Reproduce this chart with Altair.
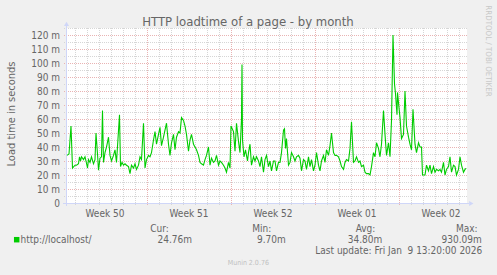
import altair as alt
import pandas as pd

# ---- data (hours since start of window, load time in ms) ----
hours = [0, 4, 8, 11, 16, 19, 23, 25, 27, 29, 33, 36, 38, 41, 43, 46, 49, 53, 56, 58,
         61, 63, 66, 69, 71, 73, 76, 79, 83, 86, 89, 93, 96, 99, 105, 107, 110, 113, 116, 119,
         123, 126, 129, 133, 136, 139, 143, 146, 149, 153, 156, 159, 163, 166, 169, 173, 176, 179, 183, 186,
         189, 193, 196, 199, 203, 206, 209, 213, 216, 219, 223, 226, 229, 233, 236, 239, 243, 246, 249, 253,
         256, 259, 263, 266, 269, 273, 276, 279, 283, 286, 289, 293, 296, 299, 303, 306, 309, 313, 316, 319,
         323, 326, 328, 333, 336, 339, 343, 346, 349, 350, 351, 354, 357, 361, 363, 366, 369, 373, 376, 379,
         383, 386, 389, 393, 396, 399, 403, 406, 409, 413, 416, 419, 423, 426, 429, 433, 435, 437, 439, 443,
         446, 449, 453, 456, 459, 463, 466, 469, 473, 476, 479, 483, 486, 489, 493, 496, 499, 503, 506, 509,
         513, 516, 519, 523, 526, 529, 533, 536, 539, 543, 546, 549, 553, 556, 559, 563, 566, 569, 573, 576,
         579, 583, 586, 589, 593, 596, 599, 603, 606, 609, 613, 616, 619, 623, 626, 629, 633, 636, 639, 643,
         646, 649, 652, 655, 657, 660, 661, 664, 666, 669, 673, 676, 679, 683, 686, 689, 692, 696, 699, 703,
         706, 709, 711, 716, 719, 723, 726, 729, 733, 736, 739, 743, 746, 749, 753, 756, 759, 763, 766, 769,
         773, 776, 779, 783, 786, 789, 793, 796, 798]
load_ms = [34, 35, 55, 25, 27, 27, 28, 33, 30, 33, 31, 33, 30, 25, 31, 29, 33, 28, 31, 50,
           35, 23.5, 32, 33, 66, 29, 36, 40, 47, 34, 30, 34, 38, 29, 63, 26, 29, 27, 28, 27,
           26, 21, 27, 25, 28, 24, 27, 33, 31, 57, 25, 31, 34, 33, 36, 45, 51, 42, 49, 54,
           41, 47, 52, 57, 42, 34, 43, 49, 38, 47, 51, 50, 61, 59, 55, 49, 37, 45, 49, 42,
           40, 38, 34, 29, 28, 27, 31, 34, 40, 27, 32, 29, 30, 34, 27, 30, 29, 27, 25, 22,
           29, 25, 55, 51, 37, 57, 44, 36, 60, 99, 45, 33, 38, 30, 36, 42, 27, 33, 30, 33,
           30, 26, 33, 22, 31, 34, 26, 30, 23, 30, 30, 23, 29, 29, 36, 52, 53, 39, 46, 27,
           29, 36, 33, 30, 33, 34, 32, 23, 31, 30, 24, 33, 26, 31, 23, 27, 36, 27, 23, 30,
           34, 29, 38, 34, 41, 50, 36, 34, 34, 33, 30, 26, 24, 29, 31, 30, 39, 58, 29, 30,
           33, 29, 30, 26, 27, 22, 21, 21, 20, 26, 36, 33, 43, 39, 33, 42, 66, 49, 34, 43,
           33, 59, 120, 85, 78, 63, 79, 68, 61, 46, 49, 80, 55, 47, 42, 38, 67, 42, 36, 43,
           40, 40, 20, 20, 27, 23, 27, 21, 26, 22, 24, 23, 24, 22, 29, 20, 24, 26, 33, 22,
           27, 26, 20, 24, 33, 27, 22, 24, 24.8]

y_labels = list(range(0, 121, 10))
y_major = list(range(10, 121, 10))
y_minor = list(range(5, 126, 10))
week_starts = [-8, 160, 328, 496, 664]
week_names = ["Week 50", "Week 51", "Week 52", "Week 01", "Week 02"]
week_lines = [w for w in week_starts if w > 0]
day_lines = [h for h in range(16, 800, 24) if (h + 8) % 168 != 0]

series_name = "http://localhost/"
legend_heads = ["Cur:", "Min:", "Avg:", "Max:"]
legend_vals = ["24.76m", "9.70m", "34.80m", "930.09m"]
last_update = "Last update: Fri Jan\u00a0\u00a09 13:20:00 2026"
title_text = "HTTP loadtime of a page - by month"
y_title = "Load time in seconds"
footer = "Munin 2.0.76"
watermark = "RRDTOOL / TOBI OETIKER"

FONT = "DejaVu Sans Condensed, DejaVu Sans"
FC = "#666666"
AXIS_C = "#CFD6F8"

xs = alt.Scale(domain=[0, 800], nice=False, zero=False)
ys = alt.Scale(domain=[0, 125], nice=False, zero=True)

df = pd.DataFrame({"hour": hours, "load": load_ms})
weeks_df = pd.DataFrame({"center": [w + 84 for w in week_starts], "name": week_names})
ylab_df = pd.DataFrame({"v": y_labels,
                        "lab": ["0" if v == 0 else f"{v} m" for v in y_labels]})

MINOR_C = "#d6d6d6"
MAJOR_C = "#e9b3b3"

layers = []
layers.append(alt.Chart(pd.DataFrame({"v": y_minor})).mark_rule(
    color=MINOR_C, strokeDash=[1, 1], strokeWidth=1, yOffset=0.5).encode(
    y=alt.Y("v:Q", scale=ys, axis=None), x=alt.value(-3), x2=alt.value(400)))
layers.append(alt.Chart(pd.DataFrame({"h": day_lines})).mark_rule(
    color=MINOR_C, strokeDash=[1, 1], strokeWidth=1, xOffset=0.5).encode(
    x=alt.X("h:Q", scale=xs, axis=None), y=alt.value(0), y2=alt.value(178)))
layers.append(alt.Chart(pd.DataFrame({"v": y_major})).mark_rule(
    color=MAJOR_C, strokeDash=[1, 1], strokeWidth=1, yOffset=0.5).encode(
    y=alt.Y("v:Q", scale=ys, axis=None), x=alt.value(-3), x2=alt.value(400)))
layers.append(alt.Chart(pd.DataFrame({"h": week_lines})).mark_rule(
    color=MAJOR_C, strokeDash=[1, 1], strokeWidth=1, xOffset=0.5).encode(
    x=alt.X("h:Q", scale=xs, axis=None), y=alt.value(0), y2=alt.value(178)))

# axis lines and arrows
layers.append(alt.Chart(pd.DataFrame({"a": [0]})).mark_rule(color=AXIS_C, strokeWidth=1).encode(
    x=alt.value(-4), x2=alt.value(402), y=alt.value(175.5)))
layers.append(alt.Chart(pd.DataFrame({"a": [0]})).mark_rule(color=AXIS_C, strokeWidth=1).encode(
    x=alt.value(-0.5), y=alt.value(-2), y2=alt.value(178)))
layers.append(alt.Chart(pd.DataFrame({"a": [0]})).mark_point(
    shape="triangle-right", filled=True, color=AXIS_C, size=25, opacity=1).encode(
    x=alt.value(404.3), y=alt.value(175.5)))
layers.append(alt.Chart(pd.DataFrame({"a": [0]})).mark_point(
    shape="triangle-up", filled=True, color=AXIS_C, size=25, opacity=1).encode(
    x=alt.value(-0.5), y=alt.value(-4.1)))

# series
layers.append(alt.Chart(df).mark_line(color="#00cc00", strokeWidth=1.1).encode(
    x=alt.X("hour:Q", scale=xs, axis=None), y=alt.Y("load:Q", scale=ys, axis=None)))

# axis labels
layers.append(alt.Chart(ylab_df).mark_text(
    align="right", baseline="middle", font=FONT, fontSize=10, color=FC, yOffset=0.5).encode(
    y=alt.Y("v:Q", scale=ys, axis=None), x=alt.value(-7), text="lab:N"))
layers.append(alt.Chart(weeks_df).mark_text(
    align="center", baseline="alphabetic", font=FONT, fontSize=10, color=FC).encode(
    x=alt.X("center:Q", scale=xs, axis=None), y=alt.value(189), text="name:N"))


def txt(s, x, y, size, align="center", color=FC, angle=0, baseline="alphabetic"):
    return alt.Chart(pd.DataFrame({"t": [s]})).mark_text(
        align=align, baseline=baseline, font=FONT, fontSize=size, color=color, angle=angle).encode(
        x=alt.value(x), y=alt.value(y), text="t:N")


layers.append(txt(title_text, 181, -2.5, 13))
layers.append(txt(y_title, -55.5, 86, 11, angle=270, baseline="middle"))
layers.append(txt(watermark, 421.3, 23, 7.9, color="#c8c8c8", angle=90, baseline="middle"))

# legend
layers.append(alt.Chart(pd.DataFrame({"a": [0]})).mark_point(
    shape="square", filled=True, color="#00cc00", size=30, opacity=1).encode(
    x=alt.value(-50.3), y=alt.value(211.7)))
layers.append(txt(series_name, -46.5, 214.5, 10, align="left"))
head_x = [92.5, 194.7, 298.5, 399.7]
val_x = [107.7, 204.3, 298, 394.7]
for h, hx in zip(legend_heads, head_x):
    layers.append(txt(h, hx, 203.5, 10))
for v, vx in zip(legend_vals, val_x):
    layers.append(txt(v, vx, 214.5, 10))
layers.append(txt(last_update, 415.3, 225.5, 10, align="right"))
layers.append(txt(footer, 181.3, 237, 7, color="#c0c0c0"))

chart = alt.layer(*layers).properties(
    width=400, height=175,
    autosize=alt.AutoSizeParams(type="none"),
    padding={"left": 67, "top": 28, "right": 30, "bottom": 72},
    background="#f0f0f0",
).configure_view(fill="white", stroke=None)

chart.save("out.html", embed_options={"renderer": "svg", "actions": False})
